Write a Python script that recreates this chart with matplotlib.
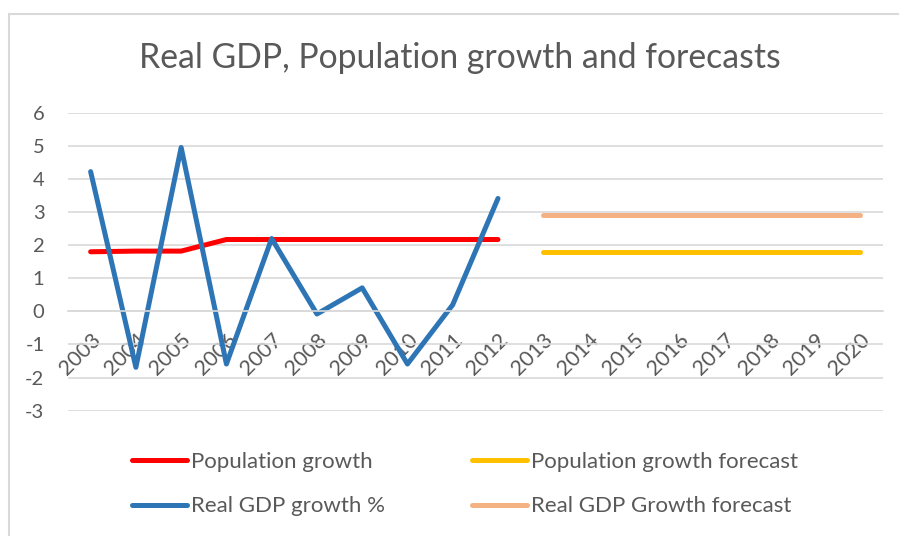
import matplotlib
matplotlib.use("Agg")
import matplotlib.pyplot as plt
from matplotlib.patches import Rectangle

years = [str(y) for y in range(2003, 2021)]
pop_growth = [1.80, 1.82, 1.82, 2.17, 2.17, 2.17, 2.17, 2.17, 2.17, 2.17] + [None] * 8
gdp_growth = [4.22, -1.69, 4.95, -1.59, 2.20, -0.08, 0.71, -1.59, 0.20, 3.41] + [None] * 8
pop_forecast = [None] * 10 + [1.80] * 8
gdp_forecast = [None] * 10 + [2.90] * 8
yticks = [-3, -2, -1, 0, 1, 2, 3, 4, 5, 6]

plt.rcParams['font.family'] = ['Lato', 'DejaVu Sans']
TXT = '#595959'
GRID = '#d9d9d9'

fig = plt.figure(figsize=(8.99, 5.36), dpi=100)
fig.patches.append(Rectangle((9 / 899, -0.1), 1.2, (536 - 14) / 536 + 0.1,
                             transform=fig.transFigure, fill=False,
                             edgecolor=GRID, linewidth=1.5))

ax = fig.add_axes([68 / 899, (536 - 410.7) / 536, (882.7 - 68) / 899, 298 / 536])
x = list(range(len(years)))

def series(vals):
    xs = [i for i, v in zip(x, vals) if v is not None]
    ys = [v for v in vals if v is not None]
    return xs, ys

kw = dict(solid_capstyle='round', solid_joinstyle='round')
l_pop, = ax.plot(*series(pop_growth), color='#FF0000', lw=3.6, label='Population growth', **kw)
l_pf, = ax.plot(*series(pop_forecast), color='#FFC000', lw=3.6, label='Population growth forecast', **kw)
l_gdp, = ax.plot(*series(gdp_growth), color='#2E75B6', lw=3.6, label='Real GDP growth %', **kw)
l_gf, = ax.plot(*series(gdp_forecast), color='#F4B183', lw=3.6, label='Real GDP Growth forecast', **kw)

for s in ['top', 'right', 'left']:
    ax.spines[s].set_visible(False)
ax.spines['bottom'].set_position(('data', 0))
ax.spines['bottom'].set_color(GRID)
ax.spines['bottom'].set_linewidth(1.2)

ax.set_xlim(-0.5, len(years) - 0.5)
ax.set_ylim(-3, 6)
ax.set_yticks(yticks)
ax.set_yticklabels([str(t) for t in yticks])
ax.set_xticks(x)
ax.set_xticklabels(years, rotation=45, ha='right', va='top', rotation_mode='anchor')
ax.grid(axis='y', color=GRID, lw=1.2)
ax.set_axisbelow(True)
ax.tick_params(axis='both', length=0, colors=TXT, labelsize=14.5)
ax.tick_params(axis='x', labelsize=15.5)
ax.tick_params(axis='y', pad=17)
ax.tick_params(axis='x', pad=13)

fig.text(460 / 899, 1 - 58 / 536, 'Real GDP, Population growth and forecasts',
         ha='center', va='center', fontsize=24.3, color=TXT)

leg = fig.legend(handles=[l_pop, l_gdp, l_pf, l_gf], ncol=2, loc='center',
                 bbox_to_anchor=(465 / 899, 1 - 484 / 536), frameon=False,
                 borderpad=0, fontsize=16, labelcolor=TXT, handlelength=2.5,
                 handletextpad=0.18, columnspacing=3.9, labelspacing=1.12)

fig.savefig('out.png', dpi=100)
